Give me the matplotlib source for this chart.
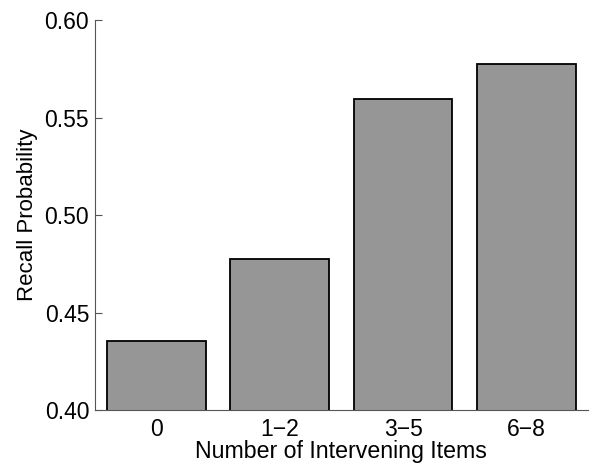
import matplotlib.pyplot as plt

plt.rcParams['font.family'] = ['Liberation Sans', 'DejaVu Sans']

categories = ['0', '1\u22122', '3\u22125', '6\u22128']
recall = [0.4355, 0.4774, 0.5595, 0.5774]
yticks = [0.40, 0.45, 0.50, 0.55, 0.60]

fig = plt.figure(figsize=(6, 4.68), dpi=100)
ax = fig.add_axes([0.158, 0.124, 0.822, 0.833])

x = range(len(categories))
ax.bar(x, recall, width=0.8, color='#969696', edgecolor='black', linewidth=1.3)

ax.set_xlim(-0.5, 3.5)
ax.set_ylim(0.40, 0.60)
ax.set_yticks(yticks)
ax.set_yticklabels(['%.2f' % t for t in yticks])
ax.set_xticks(list(x))
ax.set_xticklabels(categories)

for side in ['top', 'right']:
    ax.spines[side].set_visible(False)
for side in ['left', 'bottom']:
    ax.spines[side].set_color('#555555')
    ax.spines[side].set_linewidth(0.8)

ax.tick_params(axis='y', direction='in', length=5, color='#555555', labelsize=16.5, pad=4)
ax.tick_params(axis='x', length=0, labelsize=16.5, pad=6)

ax.set_xlabel('Number of Intervening Items', fontsize=16.7, labelpad=-1)
ax.set_ylabel('Recall Probability', fontsize=16, labelpad=5)

fig.savefig('out.png', dpi=100)
plt.close(fig)
